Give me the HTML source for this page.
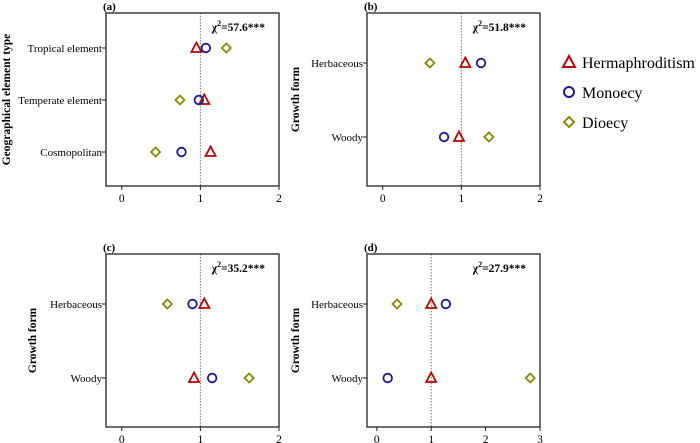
<!DOCTYPE html>
<html><head><meta charset="utf-8"><style>
body{margin:0;background:#fff}
svg{display:block}
svg text{font-family:"Liberation Serif","DejaVu Serif",serif}
</style></head><body>
<svg id="chart" width="700" height="443" viewBox="0 0 700 443" font-family="Liberation Serif, serif"></svg>
<script>
// Panel data
const seriesNames = ["Hermaphroditism","Monoecy","Dioecy"];
const aCats = ["Tropical element","Temperate element","Cosmopolitan"];
const aHerm = [0.95,1.05,1.13];
const aMono = [1.07,0.98,0.76];
const aDio  = [1.33,0.74,0.43];
const bCats = ["Herbaceous","Woody"];
const bHerm = [1.05,0.97];
const bMono = [1.25,0.78];
const bDio  = [0.60,1.35];
const cCats = ["Herbaceous","Woody"];
const cHerm = [1.05,0.92];
const cMono = [0.90,1.15];
const cDio  = [0.58,1.62];
const dCats = ["Herbaceous","Woody"];
const dHerm = [1.00,1.00];
const dMono = [1.27,0.20];
const dDio  = [0.37,2.82];
const xTicksA = [0,1,2];
const xTicksD = [0,1,2,3];
const chiLabels = ["57.6","51.8","35.2","27.9"];

const NS="http://www.w3.org/2000/svg";
const svg=document.getElementById('chart');
const RED="#c00000",BLUE="#1c1c9a",OLIVE="#8a8a00";
const FF="Liberation Serif, serif";
function el(tag,attrs,parent){const e=document.createElementNS(NS,tag);for(const k in attrs)e.setAttribute(k,attrs[k]);if(tag==='text')e.setAttribute('font-family',FF);(parent||svg).appendChild(e);return e;}

function marker(g,type,x,y){
  let m;
  if(type===0){m=el('path',{d:`M${x},${y-5.5}L${x+5},${y+4}L${x-5},${y+4}Z`,fill:'none',stroke:RED,'stroke-width':1.8},g);}
  else if(type===1){m=el('circle',{cx:x,cy:y,r:4.3,fill:'none',stroke:BLUE,'stroke-width':1.8},g);}
  else {m=el('path',{d:`M${x},${y-4.5}L${x+4.5},${y}L${x},${y+4.5}L${x-4.5},${y}Z`,fill:'none',stroke:OLIVE,'stroke-width':1.8},g);}
  
}

function panel(o){
  const g=el('g',{});
  
  
  const L=o.x0,R=o.x0+173,T=o.y0,B=o.y0+173;
  const xs=v=>L+(v-o.xmin)/(o.xmax-o.xmin)*(R-L);
  const lab=el('text',{x:L-3,y:T-3,'font-size':11,'font-weight':'bold'},g);lab.textContent='('+o.letter+')';
  
  const ref=el('line',{x1:xs(1),x2:xs(1),y1:T,y2:B,stroke:'#777','stroke-width':1,'stroke-dasharray':'1.5,1.5'},g);
  
  const box=el('rect',{x:L,y:T,width:R-L,height:B-T,fill:'none',stroke:'#222','stroke-width':1.3},g);
  
  o.ticks.forEach(t=>{
    el('line',{x1:xs(t),x2:xs(t),y1:B,y2:B+4,stroke:'#222'},g);
    const tx=el('text',{x:xs(t),y:B+16,'font-size':11.5,'text-anchor':'middle'},g);tx.textContent=t;
    
  });
  const n=o.cats.length;
  const rowY=i=> n===3 ? T+35+i*52 : T+50+i*74;
  o.cats.forEach((c,i)=>{
    const y=rowY(i);
    el('line',{x1:L-4,x2:L,y1:y,y2:y,stroke:'#222'},g);
    const t=el('text',{x:L-4,y:y+4,'font-size':11,'text-anchor':'end'},g);t.textContent=c;
    
    marker(g,0,xs(o.herm[i]),y);
    marker(g,1,xs(o.mono[i]),y);
    marker(g,2,xs(o.dio[i]),y);
  });
  const ch=el('text',{x:R-14,y:T+18,'font-size':11.5,'font-weight':'bold','text-anchor':'end'},g);
  ch.innerHTML='χ<tspan dy="-5" font-size="8">2</tspan><tspan dy="5">='+o.chi+'***</tspan>';
  
  const yt=el('text',{transform:`translate(${o.ytx},${(T+B)/2}) rotate(-90)`,'font-size':11.5,'font-weight':'bold','text-anchor':'middle'},g);
  yt.textContent=o.ytitle;
  
}

panel({letter:'a',x0:106,y0:13,xmin:-0.2,xmax:2,ticks:xTicksA,cats:aCats,herm:aHerm,mono:aMono,dio:aDio,chi:chiLabels[0],ytitle:'Geographical element type',ytx:10});
panel({letter:'b',x0:367,y0:13,xmin:-0.2,xmax:2,ticks:xTicksA,cats:bCats,herm:bHerm,mono:bMono,dio:bDio,chi:chiLabels[1],ytitle:'Growth form',ytx:299});
panel({letter:'c',x0:106,y0:254,xmin:-0.2,xmax:2,ticks:xTicksA,cats:cCats,herm:cHerm,mono:cMono,dio:cDio,chi:chiLabels[2],ytitle:'Growth form',ytx:36});
panel({letter:'d',x0:367,y0:254,xmin:-0.18,xmax:3,ticks:xTicksD,cats:dCats,herm:dHerm,mono:dMono,dio:dDio,chi:chiLabels[3],ytitle:'Growth form',ytx:299});

// legend
const lg=el('g',{});


seriesNames.forEach((s,i)=>{
  const y=62+i*30;
  const g=el('g',{},lg);
  
  
  if(i===0) el('path',{d:`M569,${y-6}L575,${y+5}L563,${y+5}Z`,fill:'none',stroke:RED,'stroke-width':2},g);
  else if(i===1) el('circle',{cx:569,cy:y,r:5,fill:'none',stroke:BLUE,'stroke-width':2},g);
  else el('path',{d:`M569,${y-5}L574,${y}L569,${y+5}L564,${y}Z`,fill:'none',stroke:OLIVE,'stroke-width':2},g);
  const t=el('text',{x:582,y:y+6,'font-size':16},g);t.textContent=s;
});
</script>
</body></html>
